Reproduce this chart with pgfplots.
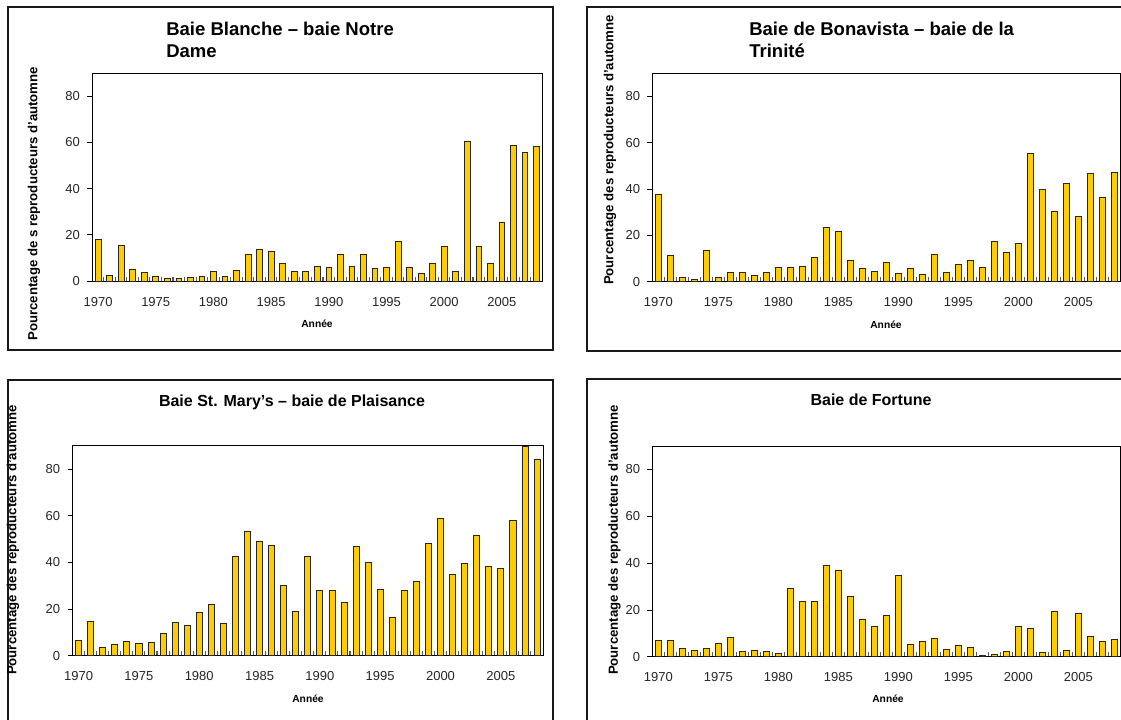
\documentclass[border=0pt]{standalone}
\usepackage{fontspec}
\setmainfont{Liberation Sans}
\usepackage{pgfplots}
\pgfplotsset{compat=1.18}
\definecolor{baryellow}{HTML}{FFCC00}
\pgfplotsset{
  panel/.style={
    scale only axis,
    anchor=south west,
    ymin=0, ymax=90,
    xmin=1969.5, xmax=2008.5,
    xtick={1970,1975,...,2005},
    minor xtick={1970.5,1971.5,...,2007.5},
    ytick={0,20,...,80},
    xtick pos=bottom, ytick pos=left,
    xtick align=inside, ytick align=outside,
    major tick length=3.75pt, minor tick length=3.2pt,
    every major x tick/.append style={draw=none},
    every minor tick/.append style={draw=black!65, line width=0.8pt},
    every major y tick/.append style={draw=black, line width=0.6pt},
    /pgf/number format/assume math mode=true,
    /pgf/number format/1000 sep={},
    tick label style={font=\fontsize{9.75}{11}\selectfont, text=black!85},
    xticklabel style={yshift=-8.5pt},
    yticklabel style={xshift=-2pt},
    axis line style={line width=0.75pt},
    clip=true,
  },
  bars/.style={ybar, bar width=0.5, fill=baryellow, draw=black!85, line width=0.6pt},
}
\begin{document}
\begin{tikzpicture}
\path[use as bounding box] (0,0) rectangle (840.75pt,539.25pt);
\clip (0,0) rectangle (840.75pt,539.25pt);
\fill[white] (0,0) rectangle (840.75pt,539.25pt);

% frames
\draw[line width=1.1pt, black!90] (6pt,276.75pt) rectangle (414.75pt,534pt);
\draw[line width=1.1pt, black!90] (440.25pt,276pt) rectangle (870pt,534pt);
\draw[line width=1.1pt, black!90] (6pt,-20pt) rectangle (414.75pt,254.25pt);
\draw[line width=1.1pt, black!90] (440.25pt,-20pt) rectangle (870pt,255pt);

% Panel 1
\begin{axis}[panel, at={(69.2pt,328.5pt)}, width=337.5pt, height=155.8pt]
\addplot[bars] coordinates {
(1970,18.1) (1971,2.5) (1972,15.5) (1973,5.2) (1974,3.8) (1975,2.2) (1976,1.3) (1977,1.2) (1978,1.6) (1979,2.0)
(1980,4.2) (1981,2.0) (1982,4.5) (1983,11.4) (1984,13.9) (1985,13.0) (1986,7.7) (1987,4.2) (1988,4.2) (1989,6.4)
(1990,5.8) (1991,11.7) (1992,6.4) (1993,11.4) (1994,5.6) (1995,6.1) (1996,17.2) (1997,5.9) (1998,3.5) (1999,7.5)
(2000,14.9) (2001,4.2) (2002,60.3) (2003,15.2) (2004,7.8) (2005,25.2) (2006,58.9) (2007,55.6) (2008,58.4)
};
\end{axis}

% Panel 2
\begin{axis}[panel, at={(489.3pt,328.1pt)}, width=351pt, height=156.2pt]
\addplot[bars] coordinates {
(1970,37.8) (1971,11.1) (1972,1.7) (1973,1.0) (1974,13.5) (1975,1.7) (1976,3.9) (1977,4.0) (1978,2.5) (1979,4.0)
(1980,6.1) (1981,6.2) (1982,6.6) (1983,10.5) (1984,23.2) (1985,21.6) (1986,9.2) (1987,5.6) (1988,4.5) (1989,8.4)
(1990,3.6) (1991,5.8) (1992,3.2) (1993,11.8) (1994,3.9) (1995,7.5) (1996,9.1) (1997,6.2) (1998,17.4) (1999,12.8)
(2000,16.3) (2001,55.5) (2002,39.9) (2003,30.4) (2004,42.5) (2005,28.3) (2006,46.6) (2007,36.5) (2008,47.1)
};
\end{axis}

% Panel 3
\begin{axis}[panel, at={(54.4pt,47.5pt)}, width=352.9pt, height=157.3pt]
\addplot[bars] coordinates {
(1970,6.7) (1971,14.7) (1972,3.7) (1973,4.7) (1974,6.2) (1975,5.2) (1976,5.6) (1977,9.6) (1978,14.3) (1979,13.0)
(1980,18.7) (1981,21.9) (1982,14.0) (1983,42.5) (1984,53.5) (1985,48.9) (1986,47.5) (1987,30.1) (1988,19.0) (1989,42.5)
(1990,27.9) (1991,27.9) (1992,23.0) (1993,46.9) (1994,39.9) (1995,28.5) (1996,16.6) (1997,27.9) (1998,31.9) (1999,48.1)
(2000,58.8) (2001,34.9) (2002,39.5) (2003,51.8) (2004,38.4) (2005,37.6) (2006,58.1) (2007,89.8) (2008,84.4)
};
\end{axis}

% Panel 4
\begin{axis}[panel, at={(489.3pt,46.7pt)}, width=351pt, height=158pt]
\addplot[bars] coordinates {
(1970,6.8) (1971,6.8) (1972,3.7) (1973,2.8) (1974,3.4) (1975,5.8) (1976,8.3) (1977,2.1) (1978,2.7) (1979,2.4)
(1980,1.4) (1981,29.0) (1982,23.5) (1983,23.6) (1984,39.1) (1985,37.0) (1986,25.8) (1987,15.8) (1988,13.1) (1989,17.7)
(1990,34.9) (1991,5.4) (1992,6.4) (1993,7.8) (1994,3.3) (1995,4.8) (1996,4.0) (1997,0.7) (1998,0.9) (1999,2.1)
(2000,13.1) (2001,12.1) (2002,1.7) (2003,19.2) (2004,2.8) (2005,18.5) (2006,8.5) (2007,6.4) (2008,7.3)
};
\end{axis}

% titles
\begin{scope}[every node/.style={inner sep=0pt, font=\bfseries\fontsize{13.9}{16}\selectfont}]
\node[anchor=base west] at (124.5pt,512.25pt) {Baie Blanche – baie Notre};
\node[anchor=base west] at (124.5pt,495.75pt) {Dame};
\node[anchor=base west] at (561.75pt,512.25pt) {Baie de Bonavista – baie de la};
\node[anchor=base west] at (561.75pt,495.75pt) {Trinité};
\end{scope}
\begin{scope}[every node/.style={inner sep=0pt, font=\bfseries\fontsize{12}{14}\selectfont}]
\node[anchor=base] at (219pt,234.75pt) {Baie St. Mary’s – baie de Plaisance};
\node[anchor=base] at (653.25pt,235.5pt) {Baie de Fortune};
\end{scope}

% y labels
\begin{scope}[every node/.style={inner sep=0pt, rotate=90, font=\bfseries\fontsize{9.9}{11}\selectfont}]
\node at (25.5pt,386.5pt) {Pourcentage de s reproducteurs d’automne};
\node at (457.5pt,426.75pt) {Pourcentage des reproducteurs d’automne};
\node at (9.75pt,134.25pt) {Pourcentage des reproducteurs d’automne};
\node at (460.9pt,134.25pt) {Pourcentage des reproducteurs d’automne};
\end{scope}

% x labels
\begin{scope}[every node/.style={inner sep=0pt, font=\bfseries\fontsize{7.7}{9}\selectfont}]
\node at (237.75pt,296.25pt) {Année};
\node at (664.5pt,295.5pt) {Année};
\node at (231pt,15pt) {Année};
\node at (666pt,15pt) {Année};
\end{scope}
\end{tikzpicture}
\end{document}
